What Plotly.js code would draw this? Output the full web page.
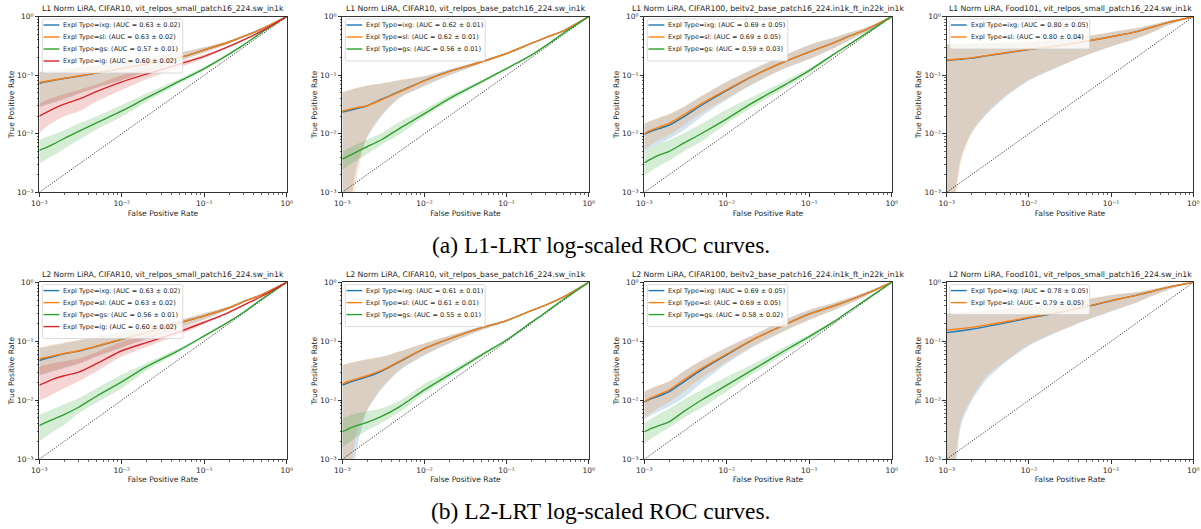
<!DOCTYPE html>
<html><head><meta charset="utf-8">
<script src="https://cdn.plot.ly/plotly-3.0.1.min.js"></script>
<style>html,body{margin:0;padding:0;background:#fff;} #chart{width:1201px;height:529px;}</style>
</head><body><div id="chart"></div>
<script>
// ---------- DATA ----------
const fpr = [0.001, 0.0012, 0.0015, 0.002, 0.003, 0.005, 0.01, 0.02, 0.05, 0.1, 0.2, 0.3, 0.5, 1];
const chanceLine = [0.001, 1];
const tickVals = [0.001, 0.01, 0.1, 1];
const tickLabels = ['10\u207b\u00b3', '10\u207b\u00b2', '10\u207b\u00b9', '10\u2070'];

const panelTitles = [
  'L1 Norm LiRA, CIFAR10, vit_relpos_small_patch16_224.sw_in1k',
  'L1 Norm LiRA, CIFAR10, vit_relpos_base_patch16_224.sw_in1k',
  'L1 Norm LiRA, CIFAR100, beitv2_base_patch16_224.in1k_ft_in22k_in1k',
  'L1 Norm LiRA, Food101, vit_relpos_small_patch16_224.sw_in1k',
  'L2 Norm LiRA, CIFAR10, vit_relpos_small_patch16_224.sw_in1k',
  'L2 Norm LiRA, CIFAR10, vit_relpos_base_patch16_224.sw_in1k',
  'L2 Norm LiRA, CIFAR100, beitv2_base_patch16_224.in1k_ft_in22k_in1k',
  'L2 Norm LiRA, Food101, vit_relpos_small_patch16_224.sw_in1k'
];
const captions = ['(a) L1-LRT log-scaled ROC curves.', '(b) L2-LRT log-scaled ROC curves.'];
const xTitle = 'False Positive Rate';
const yTitle = 'True Positive Rate';

// legend labels
const labelsA1 = ['Expl Type=ixg: (AUC = 0.63 \u00b1 0.02)', 'Expl Type=sl: (AUC = 0.63 \u00b1 0.02)', 'Expl Type=gs: (AUC = 0.57 \u00b1 0.01)', 'Expl Type=ig: (AUC = 0.60 \u00b1 0.02)'];
const labelsA2 = ['Expl Type=ixg: (AUC = 0.62 \u00b1 0.01)', 'Expl Type=sl: (AUC = 0.62 \u00b1 0.01)', 'Expl Type=gs: (AUC = 0.56 \u00b1 0.01)'];
const labelsA3 = ['Expl Type=ixg: (AUC = 0.69 \u00b1 0.05)', 'Expl Type=sl: (AUC = 0.69 \u00b1 0.05)', 'Expl Type=gs: (AUC = 0.59 \u00b1 0.03)'];
const labelsA4 = ['Expl Type=ixg: (AUC = 0.80 \u00b1 0.05)', 'Expl Type=sl: (AUC = 0.80 \u00b1 0.04)'];
const labelsB1 = ['Expl Type=ixg: (AUC = 0.63 \u00b1 0.02)', 'Expl Type=sl: (AUC = 0.63 \u00b1 0.02)', 'Expl Type=gs: (AUC = 0.56 \u00b1 0.01)', 'Expl Type=ig: (AUC = 0.60 \u00b1 0.02)'];
const labelsB2 = ['Expl Type=ixg: (AUC = 0.61 \u00b1 0.01)', 'Expl Type=sl: (AUC = 0.61 \u00b1 0.01)', 'Expl Type=gs: (AUC = 0.55 \u00b1 0.01)'];
const labelsB3 = ['Expl Type=ixg: (AUC = 0.69 \u00b1 0.05)', 'Expl Type=sl: (AUC = 0.69 \u00b1 0.05)', 'Expl Type=gs: (AUC = 0.58 \u00b1 0.02)'];
const labelsB4 = ['Expl Type=ixg: (AUC = 0.78 \u00b1 0.05)', 'Expl Type=sl: (AUC = 0.79 \u00b1 0.05)'];

// ---- A1: L1, CIFAR10, small
const A1_ixg    = [0.072,0.077,0.082,0.088,0.096,0.109,0.13,0.155,0.20,0.27,0.37,0.46,0.62,1];
const A1_ixg_lo = [0.028,0.031,0.034,0.039,0.048,0.061,0.082,0.114,0.174,0.244,0.35,0.44,0.60,1];
const A1_ixg_hi = [0.112,0.116,0.12,0.127,0.136,0.149,0.174,0.2,0.244,0.3,0.39,0.48,0.64,1];
const A1_sl     = [0.075,0.079,0.083,0.089,0.097,0.110,0.13,0.155,0.20,0.27,0.37,0.46,0.62,1];
const A1_sl_lo  = [0.03,0.032,0.035,0.040,0.049,0.062,0.083,0.115,0.175,0.245,0.35,0.44,0.60,1];
const A1_sl_hi  = [0.115,0.118,0.122,0.128,0.137,0.15,0.175,0.20,0.245,0.30,0.39,0.48,0.64,1];
const A1_gs     = [0.0052,0.0058,0.0067,0.0083,0.011,0.0155,0.0245,0.041,0.079,0.13,0.23,0.33,0.54,1];
const A1_gs_lo  = [0.0031,0.0036,0.0043,0.0055,0.0078,0.012,0.0196,0.035,0.072,0.122,0.22,0.32,0.53,1];
const A1_gs_hi  = [0.0078,0.0087,0.0098,0.0115,0.015,0.020,0.031,0.049,0.087,0.14,0.24,0.34,0.55,1];
const A1_ig     = [0.020,0.023,0.027,0.032,0.039,0.053,0.077,0.105,0.155,0.21,0.31,0.40,0.57,1];
const A1_ig_lo  = [0.0102,0.013,0.016,0.02,0.024,0.036,0.056,0.085,0.135,0.195,0.30,0.39,0.56,1];
const A1_ig_hi  = [0.033,0.037,0.042,0.048,0.056,0.07,0.10,0.125,0.17,0.225,0.32,0.41,0.58,1];
// ---- A2: L1, CIFAR10, base
const A2_ixg    = [0.0235,0.025,0.027,0.030,0.039,0.053,0.081,0.116,0.17,0.235,0.35,0.44,0.58,1];
const A2_ixg_lo = [1e-5,0.0003,0.0028,0.0085,0.02,0.041,0.065,0.099,0.16,0.23,0.345,0.435,0.575,1];
const A2_ixg_hi = [0.051,0.055,0.06,0.066,0.072,0.082,0.096,0.124,0.18,0.24,0.355,0.445,0.585,1];
const A2_sl     = [0.0245,0.026,0.028,0.030,0.038,0.052,0.080,0.115,0.17,0.235,0.35,0.44,0.58,1];
const A2_sl_lo  = [1e-5,0.00015,0.0018,0.009,0.021,0.042,0.066,0.10,0.16,0.23,0.345,0.435,0.575,1];
const A2_sl_hi  = [0.052,0.056,0.061,0.067,0.073,0.083,0.097,0.125,0.18,0.24,0.355,0.445,0.585,1];
const A2_gs     = [0.0037,0.0042,0.0049,0.006,0.0079,0.0124,0.022,0.04,0.078,0.13,0.22,0.32,0.53,1];
const A2_gs_lo  = [0.0024,0.0029,0.0035,0.0045,0.0065,0.0098,0.0195,0.036,0.073,0.125,0.215,0.315,0.525,1];
const A2_gs_hi  = [0.005,0.0057,0.0066,0.008,0.0102,0.016,0.026,0.045,0.083,0.135,0.225,0.325,0.535,1];
// ---- A3: L1, CIFAR100, beitv2
const A3_ixg    = [0.0098,0.011,0.0122,0.014,0.0195,0.031,0.055,0.094,0.17,0.25,0.36,0.46,0.61,1];
const A3_ixg_lo = [0.005,0.0058,0.0068,0.0082,0.0115,0.02,0.038,0.068,0.13,0.19,0.29,0.39,0.56,1];
const A3_ixg_hi = [0.0145,0.0165,0.0185,0.0215,0.0285,0.044,0.077,0.124,0.22,0.33,0.44,0.53,0.66,1];
const A3_sl     = [0.010,0.0115,0.013,0.015,0.021,0.033,0.057,0.095,0.17,0.25,0.36,0.46,0.61,1];
const A3_sl_lo  = [0.0053,0.0065,0.0078,0.0095,0.014,0.023,0.04,0.07,0.13,0.19,0.29,0.39,0.56,1];
const A3_sl_hi  = [0.015,0.017,0.019,0.022,0.029,0.045,0.078,0.125,0.22,0.33,0.44,0.53,0.66,1];
const A3_gs     = [0.0032,0.0037,0.0043,0.005,0.0069,0.0102,0.018,0.033,0.068,0.12,0.23,0.33,0.53,1];
const A3_gs_lo  = [0.0019,0.0023,0.0028,0.0035,0.005,0.0075,0.015,0.028,0.06,0.108,0.22,0.32,0.52,1];
const A3_gs_hi  = [0.005,0.0058,0.0068,0.0078,0.0102,0.015,0.026,0.042,0.08,0.13,0.24,0.34,0.54,1];
// ---- A4: L1, Food101, small
const A4_ixg    = [0.178,0.183,0.188,0.196,0.214,0.238,0.274,0.31,0.38,0.455,0.55,0.65,0.80,1];
const A4_ixg_lo = [1e-5,0.0005,0.004,0.0105,0.021,0.041,0.081,0.128,0.22,0.31,0.42,0.52,0.72,1];
const A4_ixg_hi = [0.335,0.34,0.345,0.35,0.355,0.36,0.368,0.405,0.465,0.545,0.635,0.715,0.845,1];
const A4_sl     = [0.182,0.186,0.19,0.198,0.216,0.24,0.276,0.31,0.38,0.455,0.55,0.65,0.80,1];
const A4_sl_lo  = [1e-5,0.0003,0.0035,0.010,0.022,0.043,0.083,0.13,0.22,0.31,0.42,0.52,0.72,1];
const A4_sl_hi  = [0.34,0.345,0.35,0.355,0.36,0.365,0.37,0.41,0.47,0.55,0.64,0.72,0.85,1];
// ---- B1: L2, CIFAR10, small
const B1_ixg    = [0.047,0.051,0.055,0.061,0.068,0.082,0.108,0.14,0.205,0.27,0.37,0.47,0.62,1];
const B1_ixg_lo = [0.026,0.028,0.031,0.035,0.041,0.055,0.078,0.109,0.169,0.234,0.35,0.45,0.60,1];
const B1_ixg_hi = [0.077,0.081,0.086,0.093,0.103,0.119,0.144,0.174,0.229,0.30,0.39,0.49,0.64,1];
const B1_sl     = [0.050,0.053,0.057,0.062,0.069,0.083,0.109,0.14,0.205,0.27,0.37,0.47,0.62,1];
const B1_sl_lo  = [0.027,0.029,0.032,0.036,0.042,0.056,0.079,0.11,0.17,0.235,0.35,0.45,0.60,1];
const B1_sl_hi  = [0.079,0.083,0.088,0.095,0.105,0.12,0.145,0.175,0.23,0.30,0.39,0.49,0.64,1];
const B1_gs     = [0.0037,0.0042,0.0048,0.0057,0.0076,0.0118,0.0205,0.037,0.071,0.123,0.215,0.31,0.52,1];
const B1_gs_lo  = [0.002,0.0024,0.003,0.0038,0.006,0.0092,0.016,0.032,0.066,0.118,0.21,0.305,0.515,1];
const B1_gs_hi  = [0.0056,0.0063,0.0072,0.0085,0.0108,0.016,0.027,0.043,0.077,0.128,0.22,0.315,0.525,1];
const B1_ig     = [0.018,0.020,0.023,0.026,0.030,0.042,0.069,0.095,0.145,0.21,0.31,0.41,0.58,1];
const B1_ig_lo  = [0.010,0.011,0.013,0.016,0.021,0.031,0.055,0.08,0.13,0.195,0.30,0.40,0.57,1];
const B1_ig_hi  = [0.037,0.04,0.043,0.046,0.051,0.066,0.098,0.125,0.17,0.225,0.32,0.42,0.59,1];
// ---- B2: L2, CIFAR10, base
const B2_ixg    = [0.018,0.02,0.022,0.025,0.031,0.045,0.075,0.11,0.17,0.224,0.33,0.41,0.57,1];
const B2_ixg_lo = [1e-5,0.0001,0.0015,0.0065,0.0155,0.032,0.058,0.092,0.155,0.215,0.325,0.405,0.565,1];
const B2_ixg_hi = [0.039,0.042,0.045,0.049,0.054,0.067,0.092,0.124,0.18,0.23,0.335,0.415,0.575,1];
const B2_sl     = [0.019,0.021,0.023,0.026,0.032,0.046,0.076,0.11,0.17,0.224,0.33,0.41,0.57,1];
const B2_sl_lo  = [1e-5,0.0003,0.0028,0.0069,0.016,0.033,0.059,0.093,0.155,0.215,0.325,0.405,0.565,1];
const B2_sl_hi  = [0.040,0.043,0.046,0.05,0.055,0.068,0.093,0.125,0.18,0.23,0.335,0.415,0.575,1];
const B2_gs     = [0.0029,0.0033,0.0037,0.0042,0.0053,0.0078,0.015,0.027,0.059,0.105,0.21,0.31,0.52,1];
const B2_gs_lo  = [0.0016,0.0019,0.0024,0.0031,0.0041,0.0063,0.013,0.024,0.055,0.10,0.20,0.305,0.515,1];
const B2_gs_hi  = [0.0049,0.0054,0.006,0.0065,0.0073,0.0098,0.019,0.031,0.063,0.11,0.215,0.315,0.525,1];
// ---- B3: L2, CIFAR100, beitv2
const B3_ixg    = [0.0093,0.0105,0.0118,0.014,0.0205,0.033,0.059,0.104,0.19,0.29,0.40,0.49,0.65,1];
const B3_ixg_lo = [0.0048,0.0055,0.0065,0.0078,0.011,0.02,0.042,0.078,0.15,0.23,0.34,0.43,0.60,1];
const B3_ixg_hi = [0.0138,0.0158,0.0178,0.0208,0.0305,0.047,0.078,0.124,0.23,0.34,0.45,0.54,0.69,1];
const B3_sl     = [0.0095,0.011,0.0125,0.015,0.022,0.035,0.061,0.105,0.19,0.29,0.40,0.49,0.65,1];
const B3_sl_lo  = [0.005,0.006,0.0075,0.0092,0.014,0.024,0.045,0.08,0.15,0.23,0.34,0.43,0.60,1];
const B3_sl_hi  = [0.014,0.016,0.018,0.021,0.031,0.048,0.079,0.125,0.23,0.34,0.45,0.54,0.69,1];
const B3_gs     = [0.0029,0.0033,0.0037,0.0043,0.0064,0.0102,0.018,0.032,0.069,0.12,0.215,0.32,0.52,1];
const B3_gs_lo  = [0.0018,0.0022,0.0027,0.0034,0.005,0.0075,0.014,0.027,0.06,0.108,0.205,0.31,0.515,1];
const B3_gs_hi  = [0.0041,0.0048,0.0058,0.0072,0.0102,0.015,0.025,0.040,0.08,0.13,0.225,0.325,0.525,1];
// ---- B4: L2, Food101, small
const B4_ixg    = [0.14,0.145,0.151,0.16,0.177,0.203,0.247,0.295,0.385,0.487,0.60,0.69,0.83,1];
const B4_ixg_lo = [1e-5,0.0002,0.0038,0.0095,0.022,0.042,0.084,0.134,0.228,0.32,0.45,0.57,0.75,1];
const B4_ixg_hi = [0.295,0.3,0.305,0.315,0.33,0.35,0.385,0.425,0.515,0.605,0.675,0.745,0.865,1];
const B4_sl     = [0.155,0.159,0.164,0.172,0.188,0.212,0.255,0.30,0.39,0.49,0.60,0.69,0.83,1];
const B4_sl_lo  = [1e-5,0.0004,0.0046,0.0107,0.025,0.045,0.087,0.137,0.23,0.32,0.45,0.57,0.75,1];
const B4_sl_hi  = [0.30,0.305,0.31,0.32,0.335,0.355,0.39,0.43,0.52,0.61,0.68,0.75,0.87,1];

// ---------- STYLE / LAYOUT ----------
const colors = {ixg:'#1f77b4', sl:'#ff7f0e', gs:'#2ca02c', ig:'#d62728'};
const fills  = {ixg:'rgba(31,119,180,0.2)', sl:'rgba(255,127,14,0.2)', gs:'rgba(44,160,44,0.2)', ig:'rgba(214,39,40,0.2)'};
const keys4 = ['ixg','sl','gs','ig'];

function mk(labels, arrs) {
  return arrs.map((a, j) => ({key:keys4[j], label:labels[j], mean:a[0], lo:a[1], hi:a[2]}));
}
const panels = [
  mk(labelsA1, [[A1_ixg,A1_ixg_lo,A1_ixg_hi],[A1_sl,A1_sl_lo,A1_sl_hi],[A1_gs,A1_gs_lo,A1_gs_hi],[A1_ig,A1_ig_lo,A1_ig_hi]]),
  mk(labelsA2, [[A2_ixg,A2_ixg_lo,A2_ixg_hi],[A2_sl,A2_sl_lo,A2_sl_hi],[A2_gs,A2_gs_lo,A2_gs_hi]]),
  mk(labelsA3, [[A3_ixg,A3_ixg_lo,A3_ixg_hi],[A3_sl,A3_sl_lo,A3_sl_hi],[A3_gs,A3_gs_lo,A3_gs_hi]]),
  mk(labelsA4, [[A4_ixg,A4_ixg_lo,A4_ixg_hi],[A4_sl,A4_sl_lo,A4_sl_hi]]),
  mk(labelsB1, [[B1_ixg,B1_ixg_lo,B1_ixg_hi],[B1_sl,B1_sl_lo,B1_sl_hi],[B1_gs,B1_gs_lo,B1_gs_hi],[B1_ig,B1_ig_lo,B1_ig_hi]]),
  mk(labelsB2, [[B2_ixg,B2_ixg_lo,B2_ixg_hi],[B2_sl,B2_sl_lo,B2_sl_hi],[B2_gs,B2_gs_lo,B2_gs_hi]]),
  mk(labelsB3, [[B3_ixg,B3_ixg_lo,B3_ixg_hi],[B3_sl,B3_sl_lo,B3_sl_hi],[B3_gs,B3_gs_lo,B3_gs_hi]]),
  mk(labelsB4, [[B4_ixg,B4_ixg_lo,B4_ixg_hi],[B4_sl,B4_sl_lo,B4_sl_hi]])
];

const W = 1201, H = 529;
const colPx = [[39.3,286.7],[342.3,588.7],[644.3,891.7],[946.7,1193.3]];
const rowPx = [[16.7,192.3],[282.3,459.2]];
const FONT = 'DejaVu Sans, sans-serif';
const TXT = '#262626';
const SMOOTH = 0.7;

const minorVals = [];
for (let d = -3; d < 0; d++) for (let k = 2; k <= 9; k++) minorVals.push(k * Math.pow(10, d));

const data = [];
const layout = {
  width: W, height: H, margin:{l:0,r:0,t:0,b:0}, paper_bgcolor:'#fff', plot_bgcolor:'#fff',
  showlegend:false, font:{family:FONT, color:TXT}, annotations:[], shapes:[]
};

function roundRect(x0, x1, y0, y1, rx, ry) {
  return 'M' + (x0 + rx) + ',' + y1 + ' L' + (x1 - rx) + ',' + y1 + ' Q' + x1 + ',' + y1 + ' ' + x1 + ',' + (y1 - ry) +
    ' L' + x1 + ',' + (y0 + ry) + ' Q' + x1 + ',' + y0 + ' ' + (x1 - rx) + ',' + y0 +
    ' L' + (x0 + rx) + ',' + y0 + ' Q' + x0 + ',' + y0 + ' ' + x0 + ',' + (y0 + ry) +
    ' L' + x0 + ',' + (y1 - ry) + ' Q' + x0 + ',' + y1 + ' ' + (x0 + rx) + ',' + y1 + ' Z';
}

panels.forEach((series, i) => {
  const n = i + 1, sfx = n === 1 ? '' : String(n);
  const row = Math.floor(i / 4), col = i % 4;
  const xd = [colPx[col][0] / W, colPx[col][1] / W];
  const yd = [1 - rowPx[row][1] / H, 1 - rowPx[row][0] / H];
  const common = {
    type:'log', range:[-3, 0], showgrid:false, zeroline:false, showline:true, mirror:true,
    linecolor:'#000', linewidth:0.8, ticks:'outside', ticklen:3.5, tickwidth:0.8, tickcolor:'#000',
    tickmode:'array', tickvals:tickVals, ticktext:tickLabels, tickfont:{size:7.5, family:FONT, color:TXT},
    minor:{tickmode:'array', tickvals:minorVals, ticks:'outside', ticklen:2, tickwidth:0.6, tickcolor:'#000', showgrid:false},
    automargin:false, fixedrange:true
  };
  layout['xaxis' + sfx] = Object.assign({}, common, {domain:xd, anchor:'y' + sfx,
    title:{text:xTitle, font:{size:7.6, family:FONT, color:TXT}, standoff:3}});
  layout['yaxis' + sfx] = Object.assign({}, common, {domain:yd, anchor:'x' + sfx,
    title:{text:yTitle, font:{size:7.6, family:FONT, color:TXT}, standoff:1}});
  const xa = 'x' + sfx, ya = 'y' + sfx;

  // bands
  series.forEach(s => {
    data.push({x:fpr, y:s.lo, xaxis:xa, yaxis:ya, mode:'lines', line:{width:0, color:fills[s.key], shape:'spline', smoothing:SMOOTH}, hoverinfo:'skip', showlegend:false});
    data.push({x:fpr, y:s.hi, xaxis:xa, yaxis:ya, mode:'lines', line:{width:0, color:fills[s.key], shape:'spline', smoothing:SMOOTH}, fill:'tonexty', fillcolor:fills[s.key], hoverinfo:'skip', showlegend:false});
  });
  // chance line
  data.push({x:chanceLine, y:chanceLine, xaxis:xa, yaxis:ya, mode:'lines', line:{color:'#000', width:0.9, dash:'1px,1.6px'}, hoverinfo:'skip', showlegend:false});
  // mean lines
  series.forEach(s => {
    data.push({x:fpr, y:s.mean, xaxis:xa, yaxis:ya, mode:'lines', name:s.label, line:{color:colors[s.key], width:1.4, shape:'spline', smoothing:SMOOTH}, showlegend:false});
  });

  // subplot title
  layout.annotations.push({text:panelTitles[i], xref:xa + ' domain', yref:ya + ' domain', x:0.5, y:1, xanchor:'center', yanchor:'bottom', yshift:1.5,
    showarrow:false, font:{size:7.7, family:FONT, color:TXT}});

  // manual legend (matplotlib style box in upper-left)
  const wPx = colPx[col][1] - colPx[col][0];
  const hPx = rowPx[row][1] - rowPx[row][0];
  const nS = series.length;
  const boxTop = 2.3, entry = 12, boxBot = boxTop + 6 + nS * entry;
  layout.shapes.push({type:'path', xref:xa + ' domain', yref:ya + ' domain',
    path:roundRect(0.012, 0.58, 1 - boxBot / hPx, 1 - boxTop / hPx, 2 / wPx, 2 / hPx),
    fillcolor:'rgba(255,255,255,0.8)', line:{color:'#d0d0d0', width:0.8}, layer:'above'});
  series.forEach((s, j) => {
    const yy = 1 - (boxTop + 6 + j * entry) / hPx;
    layout.shapes.push({type:'line', xref:xa + ' domain', yref:ya + ' domain', x0:0.017, x1:0.081, y0:yy, y1:yy,
      line:{color:colors[s.key], width:1.4}, layer:'above'});
    layout.annotations.push({text:s.label, xref:xa + ' domain', yref:ya + ' domain', x:0.093, y:yy, xanchor:'left', yanchor:'middle',
      showarrow:false, font:{size:6.5, family:FONT, color:TXT}, borderpad:0});
  });
});

// captions
const CAP_FONT = {size:23.5, family:'Liberation Serif, Times New Roman, serif', color:'#000'};
layout.annotations.push({text:captions[0], xref:'paper', yref:'paper', x:0.5, y:1 - 245 / H, xanchor:'center', yanchor:'middle', showarrow:false, font:CAP_FONT});
layout.annotations.push({text:captions[1], xref:'paper', yref:'paper', x:0.5, y:1 - 511 / H, xanchor:'center', yanchor:'middle', showarrow:false, font:CAP_FONT});

Plotly.newPlot('chart', data, layout, {displayModeBar:false, staticPlot:true});
</script>
</body></html>
